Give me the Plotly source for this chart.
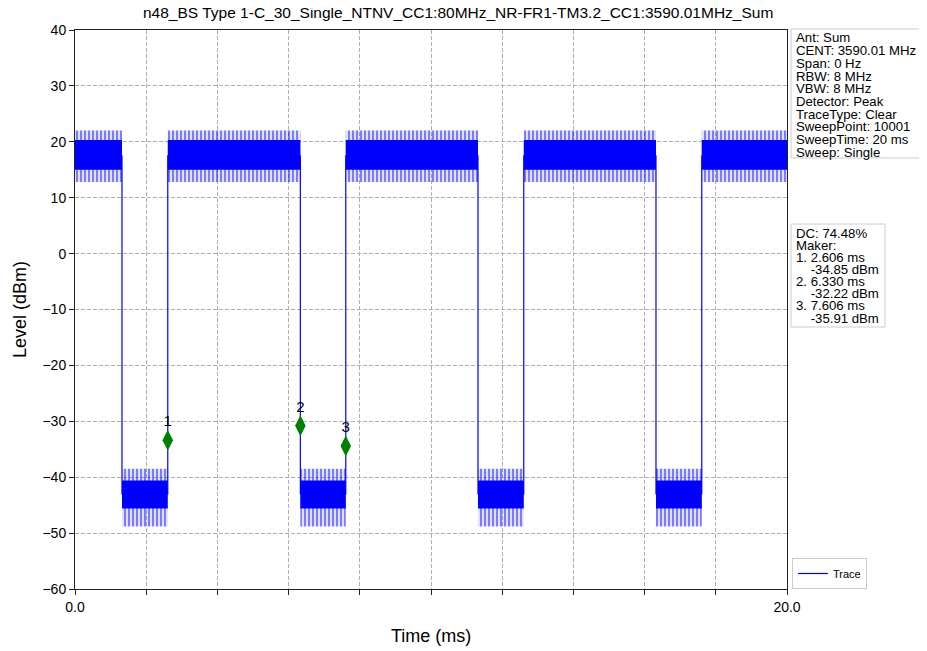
import plotly.graph_objects as go

# ---- data ----
title = "n48_BS Type 1-C_30_Single_NTNV_CC1:80MHz_NR-FR1-TM3.2_CC1:3590.01MHz_Sum"
sweep_ms = [0.0, 20.0]
edges_ms = [1.32, 2.606, 6.33, 7.606, 11.32, 12.606, 16.32, 17.606]  # falling, rising, ...
high_mean, low_mean = 17.5, -43.0
high_core = [15.0, 20.3]
high_spike = [12.8, 22.0]
low_core = [-45.6, -40.6]
low_spike = [-48.8, -38.5]
marker_t = [2.606, 6.330, 7.606]
marker_lvl = [-33.4, -30.8, -34.4]
marker_lbl = ["1", "2", "3"]
info_lines = ["Ant: Sum", "CENT: 3590.01 MHz", "Span: 0 Hz", "RBW: 8 MHz", "VBW: 8 MHz",
              "Detector: Peak", "TraceType: Clear", "SweepPoint: 10001",
              "SweepTime: 20 ms", "Sweep: Single"]
mk_lines = ["DC: 74.48%", "Maker:", "1. 2.606 ms", "    -34.85 dBm", "2. 6.330 ms",
            "    -32.22 dBm", "3. 7.606 ms", "    -35.91 dBm"]
x_tickvals = [0, 2, 4, 6, 8, 10, 12, 14, 16, 18, 20]
x_ticktext = ["0.0", "", "", "", "", "", "", "", "", "", "20.0"]

BLUE = "#0000ff"

# segments
bounds = [sweep_ms[0]] + edges_ms + [sweep_ms[1]]
segs = []
for i in range(len(bounds) - 1):
    segs.append((bounds[i], bounds[i + 1], i % 2 == 0))

fig = go.Figure()

def band(x0, x1, lo, hi, pattern):
    kw = {}
    if pattern:
        kw["fillpattern"] = dict(shape="|", fgcolor=BLUE, bgcolor="rgba(0,0,255,0.12)",
                                 size=4, solidity=0.45)
        kw["fillcolor"] = "rgba(0,0,0,0)"
    else:
        kw["fillcolor"] = BLUE
    fig.add_trace(go.Scatter(x=[x0, x1, x1, x0, x0], y=[lo, lo, hi, hi, lo],
                             mode="lines", fill="toself",
                             line=dict(width=0),
                             showlegend=False, hoverinfo="skip", **kw))

for (a, b, high) in segs:
    sp = high_spike if high else low_spike
    co = high_core if high else low_core
    band(a, b, sp[0], sp[1], True)
    band(a, b, co[0], co[1], False)

# main trace (step line through levels)
tx, ty = [], []
for (a, b, high) in segs:
    lvl = high_mean if high else low_mean
    tx += [a, b]
    ty += [lvl, lvl]
fig.add_trace(go.Scatter(x=tx, y=ty, mode="lines", name="Trace",
                         line=dict(color=BLUE, width=1.2)))

fig.add_trace(go.Scatter(x=marker_t, y=marker_lvl, mode="markers+text",
                         text=marker_lbl, textposition="top center",
                         textfont=dict(size=15, color="black", family="Liberation Sans"),
                         marker=dict(symbol="diamond-tall", size=15, color="green"),
                         showlegend=False))

# page is offset by the 8px body margin
OFF = 8
W, H = 927 - OFF, 651 - OFF
L, R, T, B = 75 - OFF, 787 - OFF, 30 - OFF, 589 - OFF
def px(x): return (x - OFF - L) / (R - L)
def py(y): return (B - (y - OFF)) / (B - T)

FONT = "Liberation Sans"
ann = []
for i, s in enumerate(info_lines):
    ann.append(dict(x=px(795), y=py(38 + i * 12.7), xref="paper", yref="paper",
                    text=s, showarrow=False, xanchor="left", yanchor="middle", borderpad=0,
                    font=dict(size=13.2, family=FONT, color="black")))
for i, s in enumerate(mk_lines):
    ann.append(dict(x=px(795), y=py(233 + i * 12.15), xref="paper", yref="paper",
                    text=s.replace(" ", "&nbsp;") if s.startswith(" ") else s,
                    showarrow=False, xanchor="left", yanchor="middle", borderpad=0,
                    font=dict(size=13.2, family=FONT, color="black")))
ann.append(dict(x=px(458), y=py(13), xref="paper", yref="paper", text=title,
                showarrow=False, xanchor="center", yanchor="middle", borderpad=0,
                font=dict(size=15.5, family=FONT, color="black")))
ann.append(dict(x=px(431), y=py(636), xref="paper", yref="paper", text="Time (ms)",
                showarrow=False, xanchor="center", yanchor="middle",
                font=dict(size=18, family=FONT, color="black")))
ann.append(dict(x=px(20), y=py(310), xref="paper", yref="paper", text="Level (dBm)",
                showarrow=False, xanchor="center", yanchor="middle", textangle=-90,
                font=dict(size=18, family=FONT, color="black")))

shapes = [
    dict(type="rect", xref="paper", yref="paper", x0=px(791), x1=px(924), y0=py(158), y1=py(29),
         line=dict(color="#cccccc", width=1)),
    dict(type="rect", xref="paper", yref="paper", x0=px(791), x1=px(885), y0=py(327), y1=py(224),
         line=dict(color="#cccccc", width=1)),
]

axis_common = dict(showgrid=True, gridcolor="#b0b0b0", griddash="4px,2px", gridwidth=1,
                   showline=True, mirror=True, linecolor="#222222", linewidth=1,
                   ticks="outside", ticklen=5, tickcolor="#222222", zeroline=False,
                   automargin=False, tickfont=dict(size=14, family=FONT))

fig.update_layout(
    width=W, height=H,
    margin=dict(l=L, r=W - R, t=T, b=H - B, autoexpand=False),
    paper_bgcolor="white", plot_bgcolor="white",
    font=dict(family=FONT, color="black", size=14),
    annotations=ann, shapes=shapes,
    legend=dict(x=px(792), y=py(589), xanchor="left", yanchor="bottom",
                bordercolor="#cccccc", borderwidth=1, font=dict(size=11),
                bgcolor="white"),
    xaxis=dict(range=sweep_ms, tickvals=x_tickvals, ticktext=x_ticktext, **axis_common),
    yaxis=dict(range=[-60, 40], dtick=10, **axis_common),
)

fig.write_html("out.html")
